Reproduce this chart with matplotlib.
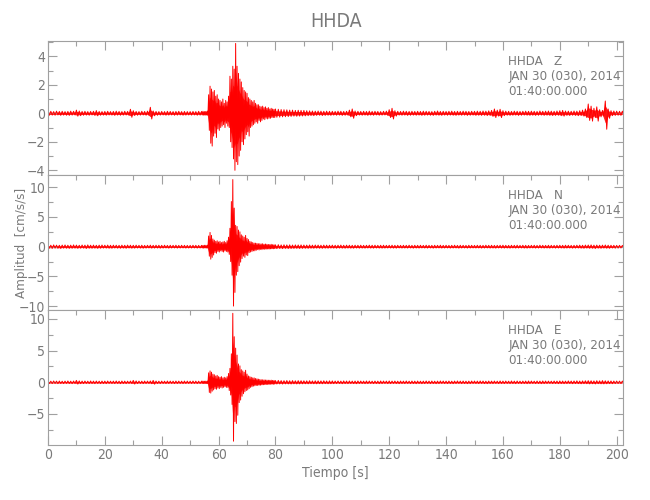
import numpy as np
import matplotlib
matplotlib.use('Agg')
import matplotlib.pyplot as plt
from matplotlib.ticker import MultipleLocator

# fuente estrecha, como la del original
plt.rcParams['font.family'] = ['DejaVu Sans']
plt.rcParams['font.stretch'] = 'condensed'

# muestreo de la lectura: 1 s fuera del evento, 0.5 s dentro (54-80 s)
t_pre = np.arange(0, 54)
t_evt = np.arange(54, 80, 0.5)
t_post = np.arange(80, 203)

# envolvente (max / min en cada muestra)
z_hi = [
    .13, .14, .12, .15, .13, .14, .12, .13, .15, .14,
    .22, .16, .13, .14, .12, .13, .14, .19, .13, .12,
    .13, .14, .12, .13, .15, .13, .12, .14, .13, .28,
    .18, .13, .12, .14, .13, .15, .42, .16, .13, .12,
    .13, .12, .14, .13, .12, .13, .14, .12, .13, .12,
    .12, .13, .12, .14,
    # evento
    .13, .14, .12, .13, .15, 1.3, 1.9, 1.7, 1.5, 1.6,
    1.2, 1.3, 1.0, 0.9, 0.8, 1.0, 0.7, 0.9, 0.8, 1.2,
    2.6, 2.4, 3.3, 3.1, 4.9, 3.3, 2.8, 2.4, 2.2, 1.8,
    1.6, 1.5, 1.4, 1.1, 1.0, 0.9, 0.8, 0.9, 0.7, 0.6,
    0.6, 0.5, .45, 0.5, 0.4, .45, .35, 0.4, 0.3, .35,
    0.3, .28,
    # despues
    .3, .28, .26, .25, .24, .22, .22, .2, .21, .2,
    .2, .18, .17, .16, .15, .16, .15, .14, .15, .14,
    .14, .13, .15, .14, .13, .14, .22, .3, .16, .14,
    .13, .14, .13, .15, .13, .14, .13, .12, .14, .15,
    .25, .35, .18, .14, .13, .15, .14, .13, .14, .13,
    .14, .13, .15, .14, .13, .12, .14, .16, .13, .14,
    .13, .14, .15, .13, .14, .13, .15, .14, .13, .14,
    .14, .15, .14, .16, .15, .17, .2, .3, .22, .28,
    .18, .15, .14, .13, .15, .14, .13, .14, .15, .14,
    .15, .14, .13, .16, .14, .15, .16, .15, .14, .16,
    .18, .2, .16, .15, .14, .16, .15, .18, .22, .3,
    .65, .5, .35, .45, .25, .2, .86, .3, .18, .16,
    .15, .14, .15,
]
z_lo = [
    -.14, -.13, -.14, -.12, -.15, -.13, -.14, -.15, -.13, -.12,
    -.2, -.17, -.14, -.13, -.14, -.12, -.15, -.18, -.14, -.13,
    -.14, -.12, -.13, -.15, -.13, -.14, -.13, -.12, -.14, -.28,
    -.16, -.14, -.13, -.12, -.14, -.13, -.4, -.18, -.14, -.13,
    -.12, -.14, -.13, -.12, -.14, -.13, -.12, -.14, -.13, -.12,
    -.13, -.12, -.14, -.13,
    # evento
    -.12, -.13, -.14, -.12, -.14, -1.2, -2.1, -2.3, -1.6, -1.4,
    -1.7, -1.1, -1.2, -1.0, -0.9, -0.8, -1.0, -0.7, -0.9, -1.0,
    -2.0, -2.4, -3.2, -4.0, -3.4, -3.6, -3.0, -2.6, -2.0, -2.2,
    -1.8, -1.5, -1.3, -1.6, -1.0, -0.9, -0.8, -0.7, -0.6, -0.7,
    -0.5, -0.6, -0.5, -0.4, -.45, -.35, -0.4, -.35, -.35, -0.3,
    -0.3, -0.3,
    # despues
    -.28, -.27, -.25, -.24, -.23, -.22, -.2, -.21, -.2, -.19,
    -.18, -.17, -.16, -.17, -.15, -.14, -.16, -.15, -.14, -.15,
    -.13, -.14, -.13, -.15, -.14, -.13, -.25, -.35, -.17, -.13,
    -.14, -.13, -.15, -.13, -.14, -.12, -.14, -.13, -.12, -.14,
    -.3, -.4, -.2, -.13, -.14, -.13, -.15, -.14, -.13, -.14,
    -.13, -.15, -.14, -.13, -.14, -.15, -.13, -.14, -.15, -.13,
    -.14, -.13, -.14, -.15, -.13, -.14, -.13, -.15, -.14, -.13,
    -.15, -.14, -.15, -.14, -.16, -.15, -.22, -.3, -.2, -.3,
    -.17, -.14, -.15, -.14, -.13, -.15, -.14, -.13, -.14, -.15,
    -.14, -.15, -.14, -.13, -.15, -.14, -.15, -.16, -.15, -.14,
    -.17, -.2, -.15, -.16, -.14, -.15, -.17, -.16, -.2, -.3,
    -.5, -.55, -.3, -.55, -.25, -.2, -1.12, -.35, -.17, -.15,
    -.14, -.15, -.14,
]

n_hi = [
    .28, .25, .3, .26, .24, .27, .29, .25, .26, .3,
    .27, .24, .28, .26, .3, .25, .27, .24, .26, .28,
    .25, .27, .24, .26, .25, .23, .26, .24, .27, .25,
    .24, .26, .23, .25, .22, .24, .26, .23, .25, .24,
    .23, .25, .22, .24, .23, .25, .22, .24, .23, .22,
    .22, .24, .23, .22,
    # evento
    .23, .22, .24, .23, .25, 1.8, 2.4, 1.9, 1.3, 1.1,
    0.9, 1.0, 0.8, 0.9, 0.7, 0.8, 0.9, 0.7, 1.0, 1.6,
    3.1, 7.6, 11.3, 6.5, 3.6, 3.4, 2.8, 2.5, 2.0, 1.8,
    1.6, 1.9, 1.4, 1.2, 0.9, 0.8, 0.7, 0.6, 0.6, .55,
    0.5, 0.5, .45, 0.5, 0.4, .45, 0.4, .38, .35, 0.4,
    .34, .33,
    # despues
    .32, .34, .3, .32, .3, .31, .28, .3, .29, .3,
    .28, .27, .29, .26, .28, .27, .25, .27, .26, .25,
    .26, .24, .25, .27, .24, .26, .25, .23, .25, .24,
    .25, .23, .24, .26, .24, .25, .23, .24, .25, .23,
    .24, .25, .23, .24, .22, .24, .23, .25, .22, .24,
    .23, .24, .22, .25, .23, .22, .24, .23, .25, .22,
    .24, .22, .23, .25, .22, .24, .23, .22, .24, .23,
    .22, .24, .23, .22, .25, .23, .24, .22, .23, .24,
    .25, .23, .22, .24, .23, .25, .22, .24, .23, .22,
    .23, .24, .22, .25, .23, .22, .24, .23, .22, .24,
    .24, .23, .25, .24, .22, .23, .25, .26, .24, .27,
    .28, .3, .26, .27, .25, .26, .28, .25, .24, .23,
    .22, .23, .22,
]
n_lo = [
    -.26, -.29, -.25, -.27, -.3, -.25, -.26, -.28, -.27, -.25,
    -.28, -.26, -.24, -.3, -.26, -.27, -.25, -.28, -.26, -.24,
    -.24, -.26, -.27, -.23, -.25, -.26, -.24, -.27, -.23, -.26,
    -.25, -.23, -.24, -.26, -.24, -.22, -.25, -.24, -.23, -.25,
    -.24, -.22, -.25, -.23, -.22, -.24, -.23, -.22, -.24, -.23,
    -.23, -.22, -.24, -.23,
    # evento
    -.22, -.24, -.23, -.22, -.24, -1.6, -2.1, -1.8, -1.4, -1.0,
    -1.1, -0.8, -0.9, -0.7, -0.8, -0.9, -0.7, -0.8, -0.9, -1.3,
    -2.5, -4.8, -10.0, -7.7, -4.8, -4.2, -3.2, -2.6, -2.0, -1.6,
    -1.8, -1.4, -1.5, -1.0, -0.9, -0.8, -0.7, -0.7, -0.6, -0.5,
    -.55, -.45, -0.5, -0.4, -.45, -0.4, -.38, -0.4, -.36, -.34,
    -.35, -.32,
    # despues
    -.33, -.3, -.32, -.29, -.31, -.3, -.29, -.28, -.3, -.28,
    -.27, -.28, -.26, -.27, -.25, -.26, -.27, -.25, -.26, -.24,
    -.25, -.26, -.24, -.25, -.26, -.24, -.25, -.26, -.23, -.25,
    -.24, -.25, -.23, -.24, -.25, -.23, -.24, -.25, -.24, -.23,
    -.23, -.24, -.25, -.22, -.24, -.23, -.24, -.22, -.25, -.23,
    -.24, -.22, -.23, -.24, -.22, -.25, -.23, -.22, -.24, -.23,
    -.22, -.24, -.23, -.22, -.25, -.23, -.22, -.24, -.23, -.22,
    -.23, -.22, -.24, -.23, -.22, -.24, -.23, -.25, -.22, -.23,
    -.24, -.23, -.25, -.22, -.24, -.23, -.22, -.24, -.25, -.23,
    -.22, -.24, -.23, -.22, -.24, -.23, -.25, -.22, -.24, -.23,
    -.23, -.25, -.24, -.23, -.25, -.24, -.23, -.25, -.27, -.24,
    -.27, -.26, -.3, -.25, -.27, -.24, -.26, -.27, -.23, -.25,
    -.24, -.22, -.23,
]

e_hi = [
    .2, .18, .21, .19, .2, .17, .19, .21, .18, .2,
    .3, .22, .19, .2, .18, .21, .19, .2, .18, .19,
    .19, .2, .18, .19, .21, .18, .2, .19, .18, .2,
    .3, .22, .19, .18, .2, .19, .21, .3, .2, .18,
    .19, .18, .2, .19, .18, .2, .19, .18, .2, .19,
    .18, .2, .19, .18,
    # evento
    .19, .2, .18, .19, .2, 1.5, 1.8, 1.6, 1.3, 1.2,
    1.0, 1.1, 0.9, 0.8, 0.9, 0.7, 0.8, 0.7, 0.9, 1.4,
    2.2, 4.5, 10.9, 7.2, 5.4, 4.3, 2.9, 2.6, 2.0, 1.8,
    1.6, 1.9, 1.3, 1.0, 0.9, 0.8, 0.7, 0.7, 0.6, .55,
    0.5, .45, 0.4, 0.4, .38, .36, .35, .33, .32, .34,
    0.3, 0.3,
    # despues
    .28, .3, .27, .26, .28, .25, .27, .24, .26, .25,
    .24, .23, .25, .22, .24, .23, .22, .24, .21, .23,
    .22, .2, .21, .19, .22, .2, .21, .19, .2, .21,
    .2, .19, .21, .2, .18, .2, .19, .21, .2, .19,
    .21, .19, .2, .18, .2, .19, .21, .18, .2, .19,
    .2, .18, .19, .21, .19, .2, .18, .19, .21, .2,
    .19, .2, .18, .2, .21, .19, .2, .18, .19, .2,
    .2, .19, .21, .2, .18, .2, .19, .2, .18, .21,
    .19, .2, .18, .21, .19, .2, .18, .19, .2, .21,
    .2, .18, .2, .19, .21, .2, .19, .18, .2, .19,
    .21, .2, .19, .22, .2, .21, .23, .2, .22, .24,
    .26, .24, .22, .25, .23, .27, .24, .22, .21, .2,
    .2, .19, .2,
]
e_lo = [
    -.19, -.2, -.18, -.21, -.19, -.2, -.18, -.19, -.21, -.18,
    -.28, -.21, -.2, -.18, -.2, -.19, -.21, -.18, -.2, -.19,
    -.2, -.18, -.19, -.2, -.18, -.21, -.19, -.2, -.18, -.19,
    -.28, -.2, -.18, -.2, -.19, -.18, -.22, -.3, -.19, -.2,
    -.18, -.2, -.19, -.18, -.2, -.19, -.18, -.2, -.19, -.18,
    -.19, -.18, -.2, -.19,
    # evento
    -.18, -.19, -.2, -.18, -.19, -1.6, -1.7, -1.4, -1.2, -1.0,
    -1.1, -0.9, -1.0, -0.8, -0.9, -0.8, -0.7, -0.8, -0.8, -1.3,
    -2.0, -3.5, -9.3, -6.2, -6.5, -5.2, -3.2, -2.8, -2.2, -1.8,
    -1.5, -1.3, -1.2, -1.0, -0.8, -0.7, -0.6, -.55, -0.5, -0.5,
    -.45, -.45, -0.4, -.38, -.36, -.35, -.33, -.34, -0.3, -0.3,
    -.31, -.28,
    # despues
    -.27, -.26, -.28, -.25, -.26, -.27, -.24, -.26, -.25, -.24,
    -.23, -.24, -.22, -.23, -.24, -.22, -.23, -.21, -.23, -.22,
    -.21, -.2, -.19, -.22, -.2, -.21, -.19, -.2, -.22, -.19,
    -.19, -.21, -.2, -.18, -.2, -.19, -.21, -.2, -.18, -.2,
    -.2, -.18, -.19, -.21, -.19, -.2, -.18, -.2, -.19, -.21,
    -.19, -.21, -.2, -.18, -.2, -.19, -.21, -.2, -.18, -.19,
    -.2, -.19, -.21, -.19, -.18, -.2, -.19, -.21, -.2, -.18,
    -.19, -.2, -.18, -.2, -.21, -.19, -.2, -.18, -.2, -.19,
    -.2, -.18, -.2, -.19, -.21, -.18, -.2, -.19, -.21, -.2,
    -.18, -.2, -.19, -.21, -.2, -.19, -.18, -.2, -.19, -.21,
    -.2, -.21, -.2, -.19, -.22, -.2, -.21, -.23, -.21, -.22,
    -.25, -.23, -.26, -.22, -.24, -.25, -.23, -.21, -.22, -.2,
    -.19, -.2, -.19,
]

station = 'HHDA'
components = ['Z', 'N', 'E']
date_line = 'JAN 30 (030), 2014'
time_line = '01:40:00.000'
ylims = [(-4.33, 5.07), (-10.66, 12.07), (-9.9, 11.42)]
y_major = [2, 5, 5]
y_minor = [1, 2.5, 2.5]

GRAY_TXT = '#7a7a7a'
GRAY_AX = '#a0a0a0'


def zigzag(t, hi, lo):
    # max en t, min a medio paso: dibuja la banda como un sismograma
    dt = np.diff(t, append=t[-1] + 1)
    x = np.column_stack([t, t + dt / 2]).ravel()
    y = np.column_stack([hi, lo]).ravel()
    return x, y


def main():
    t = np.concatenate([t_pre, t_evt, t_post])
    traces = [(z_hi, z_lo), (n_hi, n_lo), (e_hi, e_lo)]

    fig = plt.figure(figsize=(6.5, 5), dpi=100)
    boxes = [(0.0738, 0.65, 0.885, 0.268),
             (0.0738, 0.38, 0.885, 0.270),
             (0.0738, 0.11, 0.885, 0.270)]

    for k, (hi, lo) in enumerate(traces):
        ax = fig.add_axes(boxes[k])
        hi = np.array(hi)
        lo = np.array(lo)
        # banda rellena (nucleo) + zigzag encima
        ax.fill_between(t, lo * 0.6, hi * 0.6, color='#ff0000', lw=0, alpha=0.85)
        x, y = zigzag(t, hi, lo)
        ax.plot(x, y, color='#ff0000', lw=0.7)

        ax.set_xlim(0, 202.3)
        ax.set_ylim(*ylims[k])
        ax.xaxis.set_major_locator(MultipleLocator(20))
        ax.xaxis.set_minor_locator(MultipleLocator(10))
        ax.yaxis.set_major_locator(MultipleLocator(y_major[k]))
        ax.yaxis.set_minor_locator(MultipleLocator(y_minor[k]))
        last = k == 2
        ax.tick_params(which='both', direction='in', top=True, right=True,
                       bottom=last, labelbottom=last, color=GRAY_AX,
                       labelcolor=GRAY_TXT, labelsize=10, width=0.8)
        ax.tick_params(which='major', length=6.5, pad=2)
        ax.tick_params(which='minor', length=3.3)
        for s in ax.spines.values():
            s.set_color(GRAY_AX)
            s.set_linewidth(0.8)

        ax.text(0.80, 0.85, '%s   %s' % (station, components[k]),
                transform=ax.transAxes, color=GRAY_TXT, fontsize=9.5, va='center')
        ax.text(0.80, 0.735, date_line, transform=ax.transAxes,
                color=GRAY_TXT, fontsize=9.5, va='center')
        ax.text(0.80, 0.625, time_line, transform=ax.transAxes,
                color=GRAY_TXT, fontsize=9.5, va='center')

        if k == 0:
            ax.set_title(station, color=GRAY_TXT, fontsize=14, pad=10)
        if last:
            ax.set_xlabel('Tiempo [s]', color=GRAY_TXT, fontsize=10, labelpad=3)

    fig.text(0.033, 0.514, 'Amplitud  [cm/s/s]', rotation=90, color=GRAY_TXT,
             fontsize=9.5, ha='center', va='center')

    fig.savefig('out.png', dpi=100)


if __name__ == '__main__':
    main()
